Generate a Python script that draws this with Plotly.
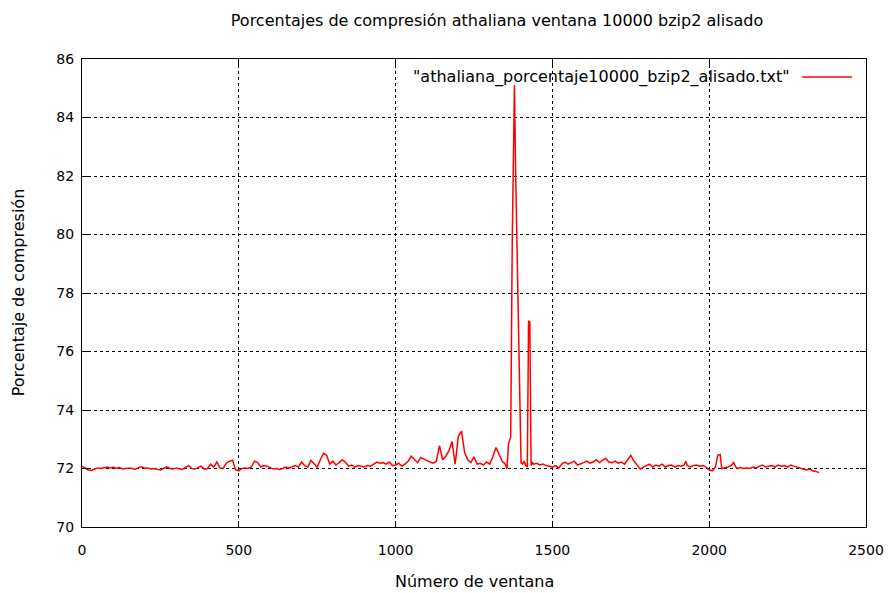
import plotly.graph_objects as go

# Window index and smoothed compression percentage for each window
ventanas = [
    0, 10, 20, 30, 40, 50, 60, 70, 80, 90, 100, 110, 120, 130, 140, 150, 160, 170, 180, 190,
    200, 210, 220, 230, 240, 250, 260, 270, 280, 290, 300, 310, 320, 330, 340, 350, 360, 370, 380, 390,
    400, 410, 420, 430, 440, 450, 460, 470, 480, 490,
    500, 510, 520, 530, 540, 550, 560, 570, 580, 590, 600, 610, 620, 630, 640, 650, 660, 670, 680, 690,
    700, 710, 720, 730, 740, 750, 760, 770, 780, 790, 800, 810, 820, 830, 840, 850, 860, 870, 880, 890,
    900, 910, 920, 930, 940, 950, 960, 970, 980, 990,
    1000, 1010, 1020, 1030, 1040, 1050, 1060, 1070, 1080, 1090, 1100, 1110, 1120, 1130, 1140, 1150,
    1160, 1170, 1180, 1190, 1200, 1210, 1220, 1230, 1240, 1250, 1260, 1270, 1280, 1290, 1300, 1310,
    1320, 1330, 1340, 1350, 1355,
    1360, 1367, 1372, 1379, 1383, 1386, 1394, 1400, 1405, 1410, 1415, 1420, 1424, 1428, 1432, 1436,
    1440, 1450, 1460, 1470, 1480, 1490, 1500, 1510, 1520, 1530, 1540, 1550, 1560, 1570, 1580, 1590,
    1600, 1610, 1620, 1630, 1640, 1650, 1660, 1670, 1680, 1690, 1700, 1710, 1720, 1730, 1740, 1750,
    1760, 1770, 1780, 1790, 1800, 1810, 1820, 1830, 1840, 1850, 1860, 1870, 1880, 1890, 1900, 1910,
    1920, 1925, 1930, 1940, 1950, 1960, 1970, 1980, 1990, 2000, 2010, 2020, 2027, 2035, 2040, 2050,
    2060, 2070, 2078, 2085, 2090, 2100, 2110, 2120, 2130, 2140, 2150, 2160, 2170, 2180, 2190, 2200,
    2210, 2220, 2230, 2240, 2250, 2260, 2270, 2280, 2290, 2300, 2310, 2320, 2330, 2340, 2350,
]

porcentajes = [
    72.08, 72.02, 71.95, 71.93, 71.98, 72.02, 72.00, 72.03, 72.05, 72.02, 72.04, 72.01, 72.03, 71.98, 71.99, 72.02, 72.00, 71.97, 72.03, 72.06,
    72.01, 72.02, 71.98, 72.00, 71.97, 71.95, 72.00, 72.06, 72.00, 71.98, 72.02, 72.00, 71.97, 72.04, 72.10, 72.00, 71.98, 72.03, 72.08, 71.98,
    72.00, 72.15, 72.05, 72.22, 72.02, 72.00, 72.18, 72.25, 72.28, 71.95,
    71.92, 72.00, 72.02, 72.00, 72.05, 72.25, 72.20, 72.05, 72.10, 72.08, 72.02, 71.98, 72.00, 71.97, 72.00, 72.05, 72.02, 72.06, 72.10, 72.05,
    72.22, 72.10, 72.05, 72.28, 72.15, 72.05, 72.30, 72.52, 72.45, 72.15, 72.25, 72.12, 72.20, 72.30, 72.22, 72.08, 72.12, 72.05, 72.10, 72.08,
    72.05, 72.10, 72.08, 72.15, 72.22, 72.18, 72.20, 72.15, 72.22, 72.10,
    72.12, 72.18, 72.08, 72.15, 72.25, 72.42, 72.30, 72.20, 72.38, 72.32, 72.28, 72.22, 72.18, 72.25, 72.78, 72.30,
    72.42, 72.60, 72.92, 72.15, 73.10, 73.28, 72.55, 72.30, 72.20, 72.40, 72.15, 72.18, 72.12, 72.22, 72.15, 72.40,
    72.72, 72.50, 72.25, 72.15, 71.98,
    72.85, 73.08, 79.80, 85.10, 82.00, 80.00, 76.10, 72.20, 72.15, 72.25, 72.10, 72.05, 77.05, 77.00, 72.10, 72.20,
    72.15, 72.18, 72.12, 72.15, 72.10, 72.08, 72.05, 72.10, 72.02, 72.15, 72.22, 72.15, 72.20, 72.25, 72.12, 72.15,
    72.20, 72.25, 72.18, 72.22, 72.30, 72.20, 72.28, 72.35, 72.22, 72.20, 72.25, 72.18, 72.22, 72.15, 72.30, 72.45,
    72.25, 72.10, 71.98, 72.05, 72.10, 72.15, 72.05, 72.12, 72.08, 72.15, 72.05, 72.10, 72.12, 72.05, 72.10, 72.08,
    72.12, 72.25, 72.10, 72.05, 72.10, 72.12, 72.08, 72.10, 72.05, 71.95, 71.92, 72.05, 72.45, 72.48, 72.00, 72.02,
    72.05, 72.10, 72.20, 72.05, 72.00, 72.03, 72.00, 72.02, 72.00, 72.05, 72.02, 72.08, 72.12, 72.05, 72.08, 72.10,
    72.05, 72.12, 72.08, 72.10, 72.05, 72.12, 72.08, 72.05, 72.02, 71.98, 71.95, 71.98, 71.92, 71.90, 71.86,
]

x_ticks = [0, 500, 1000, 1500, 2000, 2500]
y_ticks = [70, 72, 74, 76, 78, 80, 82, 84, 86]

titulo = "Porcentajes de compresión athaliana ventana 10000 bzip2 alisado"
etiqueta_serie = '"athaliana_porcentaje10000_bzip2_alisado.txt"'
titulo_x = "Número de ventana"
titulo_y = "Porcentaje de compresión"

FONT = "DejaVu Sans"
TXT = dict(family=FONT, size=16, color="black")

# plot-area pixel box inside the 896x593 canvas
L, R, T, B = 82, 869, 59, 527
W, H = 896, 593


def px_x(px):
    return (px - L) / (R - L)


def px_y(py):
    return 1 - (py - T) / (B - T)


fig = go.Figure()
fig.add_trace(go.Scatter(
    x=ventanas, y=porcentajes, mode="lines",
    line=dict(color="#ff0000", width=1.5),
    showlegend=False,
))

axis_common = dict(
    showline=True, linecolor="black", linewidth=1, mirror="ticks",
    ticks="inside", ticklen=6, tickcolor="black",
    showgrid=True, gridcolor="black", gridwidth=1, griddash="3px,3px",
    zeroline=False,
    tickfont=dict(family=FONT, size=14, color="black"),
)

fig.update_xaxes(range=[0, 2500], tickvals=x_ticks, ticklabelstandoff=10, **axis_common)
fig.update_yaxes(range=[70, 86], tickvals=y_ticks, ticklabelstandoff=4, **axis_common)

# axis titles
fig.add_annotation(xref="paper", yref="paper", x=px_x(476), y=px_y(581),
                   text=titulo_x, showarrow=False, xanchor="center", yanchor="middle", font=TXT)
fig.add_annotation(xref="paper", yref="paper", x=px_x(18), y=px_y(292),
                   text=titulo_y, showarrow=False, textangle=-90,
                   xanchor="center", yanchor="middle", font=TXT)

# Key: label on the left, line sample on the right, inside the top of the plot
fig.add_annotation(
    xref="paper", yref="paper", x=px_x(795), y=px_y(77),
    text=etiqueta_serie, showarrow=False, xanchor="right", yanchor="middle", font=TXT,
)
fig.add_shape(
    type="line", xref="paper", yref="paper",
    x0=px_x(805), x1=px_x(855), y0=px_y(77), y1=px_y(77),
    line=dict(color="#ff0000", width=1.5),
)

fig.update_layout(
    width=W, height=H,
    margin=dict(l=L, r=W - R, t=T, b=H - B),
    paper_bgcolor="white", plot_bgcolor="white",
    title=dict(text=titulo, x=497 / W, xanchor="center", y=1 - 20 / H, yanchor="middle", font=TXT),
)

fig.write_html("out.html")
